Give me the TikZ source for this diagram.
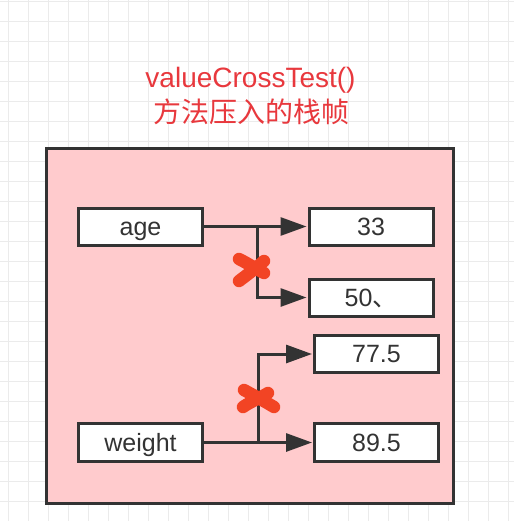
\documentclass[tikz,border=0pt]{standalone}
\usepackage{fontspec}
\setmainfont{Liberation Sans}
\newfontfamily\cjk{Noto Sans CJK SC}
\usetikzlibrary{arrows.meta}
\definecolor{gridc}{HTML}{EBEBEB}
\definecolor{framefill}{HTML}{FFCBCD}
\definecolor{ink}{HTML}{333333}
\definecolor{titlered}{HTML}{E8383D}
\definecolor{crossred}{HTML}{F24424}
\tikzset{
  valbox/.style={draw=ink, line width=3pt, fill=white, inner sep=0pt,
    minimum width=124pt, minimum height=37pt, text=ink,
    font=\fontsize{25}{29}\selectfont, text height=17.5pt, text depth=0pt},
  conn/.style={draw=ink, line width=3pt, -{Triangle[length=26pt,width=18pt]}, shorten >=1pt},
  crossmark/.style={draw=crossred, line width=12.5pt, line cap=round},
  titletext/.style={text=titlered, inner sep=0pt, font=\fontsize{28}{34}\selectfont}
}
\begin{document}
\begin{tikzpicture}[x=1pt,y=-1pt]
\useasboundingbox (0,0) rectangle (514,521);
\fill[white] (0,0) rectangle (514,521);
% grid
\foreach \i in {0,...,25} {\draw[gridc, line width=1.3pt] (8.5+20*\i,0) -- (8.5+20*\i,521);}
\foreach \i in {0,...,26} {\draw[gridc, line width=1.3pt] (0,1.5+20*\i) -- (514,1.5+20*\i);}
% title
\node[titletext, anchor=base] (title1) at (250.5,88) {valueCrossTest()};
\node[titletext, anchor=base] (title2) at (251,123) {\cjk 方法压入的栈帧};
% frame
\node[draw=ink, line width=3pt, fill=framefill, inner sep=0pt,
  minimum width=407pt, minimum height=355pt] (frame) at (250,326) {};
% boxes
\node[valbox] (age) at (140.5,226.5) {age};
\node[valbox] (v33) at (371,226.5) {33};
\node[valbox] (v50) at (371,297.5) {50{\cjk 、}};
\node[valbox] (v775) at (376.5,354) {77.5};
\node[valbox, minimum height=38pt] (v895) at (376.5,442.5) {89.5};
\node[valbox, minimum height=38pt] (weight) at (140.5,442.5) {weight};
% connectors
\coordinate (j1) at (257,226.5);
\coordinate (j2) at (258.5,442.5);
\draw[conn] (age.east) -- (v33.west);
\draw[conn] (j1) |- (v50.west);
\draw[conn] (weight.east) -- (v895.west);
\draw[conn] (j2) |- (v775.west);
% red crosses
\draw[crossmark] (239,259) .. controls (249,264) and (256,269) .. (264,273);
\draw[crossmark] (264,261) .. controls (256,268) and (247,275) .. (239,281);
\draw[crossmark] (244,390) .. controls (255,396) and (264,401) .. (274,407);
\draw[crossmark] (268,393) .. controls (260,398) and (250,402) .. (243,407);
\end{tikzpicture}
\end{document}
